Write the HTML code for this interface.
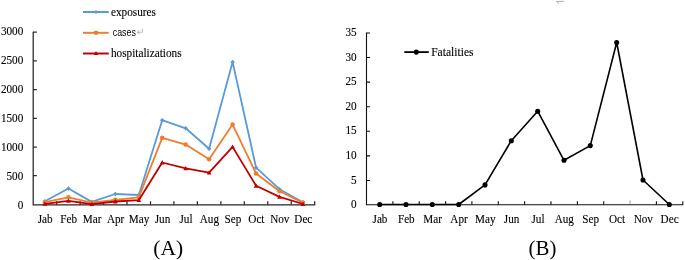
<!DOCTYPE html>
<html><head><meta charset="utf-8"><title>chart</title>
<style>
html,body{margin:0;padding:0;background:#fff;}
body{width:685px;height:260px;overflow:hidden;font-family:"Liberation Serif",serif;}
svg{display:block;will-change:transform;}
text{font-family:"Liberation Serif",serif;fill:#000}
</style></head><body>
<svg width="685" height="260" viewBox="0 0 685 260">
<rect width="685" height="260" fill="#fff"/>
<g stroke="#262626" stroke-width="1.25" fill="none">
<path d="M33.2 31.7V204.8H315.2"/>
<path d="M33.2 175.70h3.6M33.2 147.00h3.6M33.2 118.30h3.6M33.2 89.60h3.6M33.2 60.90h3.6M33.2 32.20h3.6M56.7 204.8v-3.6M80.1 204.8v-3.6M103.6 204.8v-3.6M127.0 204.8v-3.6M150.5 204.8v-3.6M173.9 204.8v-3.6M197.4 204.8v-3.6M220.9 204.8v-3.6M244.3 204.8v-3.6M267.8 204.8v-3.6M291.2 204.8v-3.6M314.7 204.8v-3.6"/>
</g>
<text transform="translate(23.3,208.8) scale(0.868,1)" font-size="12.9" text-anchor="end" stroke="#000" stroke-width="0.12">0</text>
<text transform="translate(23.3,179.9) scale(0.868,1)" font-size="12.9" text-anchor="end" stroke="#000" stroke-width="0.12">500</text>
<text transform="translate(23.3,151.0) scale(0.868,1)" font-size="12.9" text-anchor="end" stroke="#000" stroke-width="0.12">1000</text>
<text transform="translate(23.3,122.1) scale(0.868,1)" font-size="12.9" text-anchor="end" stroke="#000" stroke-width="0.12">1500</text>
<text transform="translate(23.3,93.2) scale(0.868,1)" font-size="12.9" text-anchor="end" stroke="#000" stroke-width="0.12">2000</text>
<text transform="translate(23.3,64.2) scale(0.868,1)" font-size="12.9" text-anchor="end" stroke="#000" stroke-width="0.12">2500</text>
<text transform="translate(23.3,35.3) scale(0.868,1)" font-size="12.9" text-anchor="end" stroke="#000" stroke-width="0.12">3000</text>
<text transform="translate(45.2,222.5) scale(0.868,1)" font-size="12.9" text-anchor="middle" stroke="#000" stroke-width="0.12">Jab</text>
<text transform="translate(68.7,222.5) scale(0.868,1)" font-size="12.9" text-anchor="middle" stroke="#000" stroke-width="0.12">Feb</text>
<text transform="translate(92.1,222.5) scale(0.868,1)" font-size="12.9" text-anchor="middle" stroke="#000" stroke-width="0.12">Mar</text>
<text transform="translate(115.6,222.5) scale(0.868,1)" font-size="12.9" text-anchor="middle" stroke="#000" stroke-width="0.12">Apr</text>
<text transform="translate(139.1,222.5) scale(0.868,1)" font-size="12.9" text-anchor="middle" stroke="#000" stroke-width="0.12">May</text>
<text transform="translate(162.5,222.5) scale(0.868,1)" font-size="12.9" text-anchor="middle" stroke="#000" stroke-width="0.12">Jun</text>
<text transform="translate(186.0,222.5) scale(0.868,1)" font-size="12.9" text-anchor="middle" stroke="#000" stroke-width="0.12">Jul</text>
<text transform="translate(209.4,222.5) scale(0.868,1)" font-size="12.9" text-anchor="middle" stroke="#000" stroke-width="0.12">Aug</text>
<text transform="translate(232.9,222.5) scale(0.868,1)" font-size="12.9" text-anchor="middle" stroke="#000" stroke-width="0.12">Sep</text>
<text transform="translate(256.4,222.5) scale(0.868,1)" font-size="12.9" text-anchor="middle" stroke="#000" stroke-width="0.12">Oct</text>
<text transform="translate(279.8,222.5) scale(0.868,1)" font-size="12.9" text-anchor="middle" stroke="#000" stroke-width="0.12">Nov</text>
<text transform="translate(303.3,222.5) scale(0.868,1)" font-size="12.9" text-anchor="middle" stroke="#000" stroke-width="0.12">Dec</text>
<polyline points="44.9,201.3 68.4,188.5 91.8,201.9 115.3,194.0 138.8,195.0 162.2,120.2 185.7,128.3 209.1,148.7 232.6,62.0 256.1,167.7 279.5,189.2 303.0,202.3" fill="none" stroke="#5B9BD5" stroke-width="1.8" stroke-linejoin="round"/>
<path d="M44.9 199.0L47.2 201.3L44.9 203.6L42.6 201.3ZM68.4 186.2L70.7 188.5L68.4 190.8L66.1 188.5ZM91.8 199.6L94.1 201.9L91.8 204.2L89.5 201.9ZM115.3 191.7L117.6 194.0L115.3 196.3L113.0 194.0ZM138.8 192.7L141.1 195.0L138.8 197.3L136.5 195.0ZM162.2 117.9L164.5 120.2L162.2 122.5L159.9 120.2ZM185.7 126.0L188.0 128.3L185.7 130.6L183.4 128.3ZM209.1 146.4L211.4 148.7L209.1 151.0L206.8 148.7ZM232.6 59.7L234.9 62.0L232.6 64.3L230.3 62.0ZM256.1 165.4L258.4 167.7L256.1 170.0L253.8 167.7ZM279.5 186.9L281.8 189.2L279.5 191.5L277.2 189.2ZM303.0 200.0L305.3 202.3L303.0 204.6L300.7 202.3Z" fill="#5B9BD5"/>
<polyline points="44.9,202.2 68.4,197.3 91.8,202.7 115.3,199.9 138.8,197.3 162.2,137.9 185.7,144.6 209.1,159.2 232.6,124.6 256.1,173.5 279.5,191.3 303.0,202.7" fill="none" stroke="#ED7D31" stroke-width="1.8" stroke-linejoin="round"/>
<g fill="#ED7D31"><circle cx="44.9" cy="202.2" r="2.3"/><circle cx="68.4" cy="197.3" r="2.3"/><circle cx="91.8" cy="202.7" r="2.3"/><circle cx="115.3" cy="199.9" r="2.3"/><circle cx="138.8" cy="197.3" r="2.3"/><circle cx="162.2" cy="137.9" r="2.3"/><circle cx="185.7" cy="144.6" r="2.3"/><circle cx="209.1" cy="159.2" r="2.3"/><circle cx="232.6" cy="124.6" r="2.3"/><circle cx="256.1" cy="173.5" r="2.3"/><circle cx="279.5" cy="191.3" r="2.3"/><circle cx="303.0" cy="202.7" r="2.3"/></g>
<polyline points="44.9,203.8 68.4,200.8 91.8,204.2 115.3,201.5 138.8,200.2 162.2,162.5 185.7,168.3 209.1,172.7 232.6,146.9 256.1,185.8 279.5,196.9 303.0,204.0" fill="none" stroke="#C00000" stroke-width="1.8" stroke-linejoin="round"/>
<path d="M44.9 201.4L47.3 205.7L42.5 205.7ZM68.4 198.4L70.8 202.7L66.0 202.7ZM91.8 201.8L94.2 206.1L89.4 206.1ZM115.3 199.1L117.7 203.4L112.9 203.4ZM138.8 197.8L141.2 202.1L136.4 202.1ZM162.2 160.1L164.6 164.4L159.8 164.4ZM185.7 165.9L188.1 170.2L183.3 170.2ZM209.1 170.3L211.5 174.6L206.7 174.6ZM232.6 144.5L235.0 148.8L230.2 148.8ZM256.1 183.4L258.5 187.7L253.7 187.7ZM279.5 194.5L281.9 198.8L277.1 198.8ZM303.0 201.6L305.4 205.9L300.6 205.9Z" fill="#C00000"/>
<path d="M83 12.0H108.8" stroke="#5B9BD5" stroke-width="1.95" fill="none"/>
<path d="M96.0 10.0L98.0 12.0L96.0 14.0L94.0 12.0Z" fill="#5B9BD5"/>
<text transform="translate(111.0,15.5) scale(0.872,1)" font-size="12.9" text-anchor="start" stroke="#000" stroke-width="0.12">exposures</text>
<path d="M83 32.8H108.8" stroke="#ED7D31" stroke-width="1.95" fill="none"/>
<circle cx="96" cy="32.8" r="2.3" fill="#ED7D31"/>
<text transform="translate(112.8,36.3) scale(0.76,1)" font-size="11.6" style="font-family:'Liberation Sans',sans-serif" fill="#222">cases</text>
<path d="M83 53.5H108.8" stroke="#C00000" stroke-width="1.95" fill="none"/>
<path d="M96.0 51.0L98.2 55.0L93.8 55.0Z" fill="#C00000"/>
<text transform="translate(111.0,57.0) scale(0.872,1)" font-size="12.9" text-anchor="start" stroke="#000" stroke-width="0.12">hospitalizations</text>
<path d="M142.4 29V32.3H137.3M139.6 30.3L137.3 32.3L139.6 34.3" stroke="#9a9a9a" stroke-width="0.7" fill="none"/>
<text x="168.3" y="254.7" font-size="21.5" text-anchor="middle">(A)</text>
<g stroke="#111" stroke-width="1.1" fill="none">
<path d="M366.5 32.5V204.8H683.3"/>
<path d="M366.5 180.43h3.6M366.5 155.86h3.6M366.5 131.29h3.6M366.5 106.71h3.6M366.5 82.14h3.6M366.5 57.57h3.6M366.5 33.00h3.6M392.9 204.8v-3.6M419.2 204.8v-3.6M445.6 204.8v-3.6M471.9 204.8v-3.6M498.3 204.8v-3.6M524.6 204.8v-3.6M551.0 204.8v-3.6M577.4 204.8v-3.6M603.7 204.8v-3.6M656.4 204.8v-3.6M682.8 204.8v-3.6"/>
</g>
<path d="M630.1 204.2v-3.6" stroke="#9a9a9a" stroke-width="1"/>
<text transform="translate(356.7,208.0) scale(0.868,1)" font-size="12.9" text-anchor="end" stroke="#000" stroke-width="0.12">0</text>
<text transform="translate(356.7,183.5) scale(0.868,1)" font-size="12.9" text-anchor="end" stroke="#000" stroke-width="0.12">5</text>
<text transform="translate(356.7,158.9) scale(0.868,1)" font-size="12.9" text-anchor="end" stroke="#000" stroke-width="0.12">10</text>
<text transform="translate(356.7,134.4) scale(0.868,1)" font-size="12.9" text-anchor="end" stroke="#000" stroke-width="0.12">15</text>
<text transform="translate(356.7,109.9) scale(0.868,1)" font-size="12.9" text-anchor="end" stroke="#000" stroke-width="0.12">20</text>
<text transform="translate(356.7,85.3) scale(0.868,1)" font-size="12.9" text-anchor="end" stroke="#000" stroke-width="0.12">25</text>
<text transform="translate(356.7,60.8) scale(0.868,1)" font-size="12.9" text-anchor="end" stroke="#000" stroke-width="0.12">30</text>
<text transform="translate(356.7,36.3) scale(0.868,1)" font-size="12.9" text-anchor="end" stroke="#000" stroke-width="0.12">35</text>
<text transform="translate(380.0,222.5) scale(0.868,1)" font-size="12.9" text-anchor="middle" stroke="#000" stroke-width="0.12">Jab</text>
<text transform="translate(406.3,222.5) scale(0.868,1)" font-size="12.9" text-anchor="middle" stroke="#000" stroke-width="0.12">Feb</text>
<text transform="translate(432.6,222.5) scale(0.868,1)" font-size="12.9" text-anchor="middle" stroke="#000" stroke-width="0.12">Mar</text>
<text transform="translate(459.0,222.5) scale(0.868,1)" font-size="12.9" text-anchor="middle" stroke="#000" stroke-width="0.12">Apr</text>
<text transform="translate(485.3,222.5) scale(0.868,1)" font-size="12.9" text-anchor="middle" stroke="#000" stroke-width="0.12">May</text>
<text transform="translate(511.6,222.5) scale(0.868,1)" font-size="12.9" text-anchor="middle" stroke="#000" stroke-width="0.12">Jun</text>
<text transform="translate(538.0,222.5) scale(0.868,1)" font-size="12.9" text-anchor="middle" stroke="#000" stroke-width="0.12">Jul</text>
<text transform="translate(564.3,222.5) scale(0.868,1)" font-size="12.9" text-anchor="middle" stroke="#000" stroke-width="0.12">Aug</text>
<text transform="translate(590.6,222.5) scale(0.868,1)" font-size="12.9" text-anchor="middle" stroke="#000" stroke-width="0.12">Sep</text>
<text transform="translate(617.0,222.5) scale(0.868,1)" font-size="12.9" text-anchor="middle" stroke="#000" stroke-width="0.12">Oct</text>
<text transform="translate(643.3,222.5) scale(0.868,1)" font-size="12.9" text-anchor="middle" stroke="#000" stroke-width="0.12">Nov</text>
<text transform="translate(669.6,222.5) scale(0.868,1)" font-size="12.9" text-anchor="middle" stroke="#000" stroke-width="0.12">Dec</text>
<polyline points="379.7,204.5 406.0,204.5 432.3,204.5 458.7,204.5 485.0,184.9 511.3,140.7 537.7,111.2 564.0,160.3 590.3,145.6 616.7,42.5 643.0,180.0 669.3,204.5" fill="none" stroke="#000" stroke-width="1.6" stroke-linejoin="round"/>
<g fill="#000"><circle cx="379.7" cy="204.5" r="2.55"/><circle cx="406.0" cy="204.5" r="2.55"/><circle cx="432.3" cy="204.5" r="2.55"/><circle cx="458.7" cy="204.5" r="2.55"/><circle cx="485.0" cy="184.9" r="2.55"/><circle cx="511.3" cy="140.7" r="2.55"/><circle cx="537.7" cy="111.2" r="2.55"/><circle cx="564.0" cy="160.3" r="2.55"/><circle cx="590.3" cy="145.6" r="2.55"/><circle cx="616.7" cy="42.5" r="2.55"/><circle cx="643.0" cy="180.0" r="2.55"/><circle cx="669.3" cy="204.5" r="2.55"/></g>
<path d="M404.3 52.1H428.8" stroke="#000" stroke-width="1.8"/><circle cx="416.3" cy="52.1" r="2.55" fill="#000"/>
<text transform="translate(431.2,55.8) scale(0.895,1)" font-size="12.9" text-anchor="start" stroke="#000" stroke-width="0.12">Fatalities</text>
<text x="542.5" y="254.7" font-size="20.9" text-anchor="middle">(B)</text>
<path d="M564 1.4H556.4L558.6 3.8" stroke="#a8a8a8" stroke-width="0.9" fill="none"/>
</svg>
</body></html>
